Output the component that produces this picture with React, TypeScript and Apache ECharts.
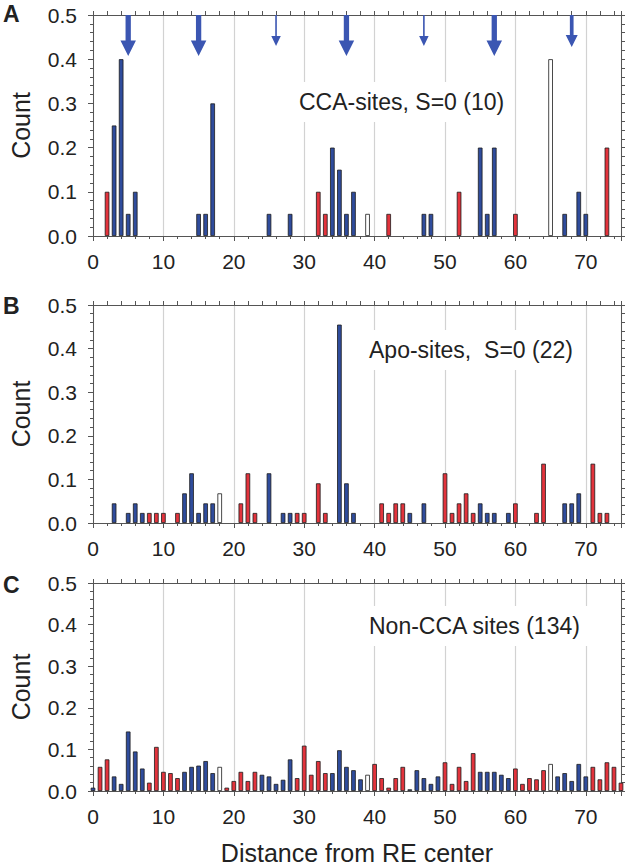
import React, { useEffect, useRef } from "react";
import * as echarts from "echarts";

// ---------- data ----------
// Panel A: CCA-sites, S=0 (10)
const A_X = [2, 3, 4, 5, 6, 15, 16, 17, 25, 28, 32, 33, 34, 35, 36, 37, 39, 42, 47, 48, 52, 55, 56, 57, 60, 65, 67, 69, 70, 73];
const A_Y = [0.1, 0.25, 0.4, 0.05, 0.1, 0.05, 0.05, 0.3, 0.05, 0.05, 0.1, 0.05, 0.2, 0.15, 0.05, 0.1, 0.05, 0.05, 0.05, 0.05, 0.1, 0.2, 0.05, 0.2, 0.05, 0.4, 0.05, 0.1, 0.05, 0.2];
const A_T = ["r", "b", "b", "b", "b", "b", "b", "b", "b", "b", "r", "r", "b", "b", "b", "b", "w", "r", "b", "b", "r", "b", "b", "b", "r", "w", "b", "b", "b", "r"];

// Panel B: Apo-sites, S=0 (22)
const B_X = [3, 5, 6, 7, 8, 9, 10, 12, 13, 14, 15, 16, 17, 18, 21, 22, 23, 25, 27, 28, 29, 30, 32, 33, 35, 36, 37, 41, 42, 43, 44, 45, 47, 50, 51, 52, 53, 54, 55, 56, 57, 59, 60, 63, 64, 67, 68, 69, 71, 72, 73];
const B_Y = [0.045, 0.023, 0.045, 0.023, 0.023, 0.023, 0.023, 0.023, 0.068, 0.114, 0.023, 0.045, 0.045, 0.068, 0.045, 0.114, 0.023, 0.114, 0.023, 0.023, 0.023, 0.023, 0.091, 0.023, 0.455, 0.091, 0.023, 0.045, 0.023, 0.045, 0.045, 0.023, 0.045, 0.114, 0.023, 0.045, 0.068, 0.023, 0.045, 0.023, 0.023, 0.023, 0.045, 0.023, 0.136, 0.045, 0.045, 0.068, 0.136, 0.023, 0.023];
const B_T = ["b", "b", "b", "b", "r", "r", "r", "r", "b", "b", "b", "b", "b", "w", "r", "r", "r", "b", "b", "b", "r", "r", "r", "r", "b", "b", "b", "r", "r", "r", "r", "b", "b", "r", "r", "r", "r", "r", "b", "b", "b", "b", "r", "r", "r", "b", "b", "b", "r", "r", "r"];

// Panel C: Non-CCA sites (134)
const C_X = [0, 1, 2, 3, 4, 5, 6, 7, 8, 9, 10, 11, 12, 13, 14, 15, 16, 17, 18, 19, 20, 21, 22, 23, 24, 25, 26, 27, 28, 29, 30, 31, 32, 33, 34, 35, 36, 37, 38, 39, 40, 41, 42, 43, 44, 45, 46, 47, 48, 49, 50, 51, 52, 53, 54, 55, 56, 57, 58, 59, 60, 61, 62, 63, 64, 65, 66, 67, 68, 69, 70, 71, 72, 73, 74, 75];
const C_Y = [0.008, 0.058, 0.076, 0.035, 0.017, 0.143, 0.095, 0.054, 0.02, 0.106, 0.046, 0.043, 0.031, 0.046, 0.058, 0.061, 0.072, 0.043, 0.058, 0.008, 0.024, 0.046, 0.024, 0.046, 0.039, 0.035, 0.017, 0.027, 0.076, 0.031, 0.109, 0.039, 0.072, 0.043, 0.043, 0.098, 0.058, 0.05, 0.028, 0.039, 0.065, 0.031, 0.008, 0.031, 0.058, 0.004, 0.05, 0.031, 0.017, 0.035, 0.069, 0.017, 0.058, 0.024, 0.091, 0.046, 0.046, 0.046, 0.039, 0.031, 0.054, 0.017, 0.031, 0.028, 0.05, 0.065, 0.035, 0.043, 0.024, 0.065, 0.035, 0.058, 0.028, 0.069, 0.058, 0.02];
const C_T = ["b", "r", "r", "b", "b", "b", "b", "b", "r", "r", "r", "r", "r", "b", "b", "b", "b", "b", "w", "r", "r", "r", "r", "r", "b", "b", "b", "b", "b", "r", "r", "r", "r", "r", "b", "b", "b", "b", "b", "w", "r", "r", "r", "r", "r", "b", "b", "b", "b", "b", "r", "r", "r", "r", "r", "b", "b", "b", "b", "b", "r", "r", "r", "r", "r", "w", "b", "b", "b", "b", "b", "r", "r", "r", "r", "r"];

// Arrows in panel A (position, weight 1 = thin, 2 = medium, 3 = thick)
const ARROW_X = [5, 15, 26, 36, 47, 57, 68];
const ARROW_W = [3, 3, 1, 3, 1, 3, 2];

const PANEL_TITLES = ["CCA-sites, S=0 (10)", "Apo-sites,  S=0 (22)", "Non-CCA sites (134)"];
const PANEL_LETTERS = ["A", "B", "C"];
const Y_NAME = "Count";
const X_NAME = "Distance from RE center";

// ---------- styles ----------
const FONT = '"Liberation Sans", Arial, Helvetica, sans-serif';
const TEXT = "#222222";
const AXIS = "#555555";
const COLORS: Record<string, string> = { b: "#2F4C9C", r: "#E2333C", w: "#FFFFFF" };
const ARROW_COLOR = "#3B56B2";
const ARROW_SPEC: Record<number, { s: number; h: number; hh: number; len: number }> = {
  1: { s: 1.6, h: 9.5, hh: 10, len: 31 },
  2: { s: 3.7, h: 12, hh: 12, len: 32 },
  3: { s: 5.3, h: 15.5, hh: 15.5, len: 41 },
};
const GRIDS = [
  { top: 15, height: 221 },
  { top: 305, height: 218 },
  { top: 583, height: 213 },
];
const TITLE_POS = [
  { left: 289, top: 82 },
  { left: 359, top: 330 },
  { left: 359, top: 606 },
];
const LETTER_Y = [14, 306, 585];

export default function App() {
  const ref = useRef<HTMLDivElement>(null);
  useEffect(() => {
    if (!ref.current) return;
    const chart = echarts.init(ref.current, null, { renderer: "svg" });
    const panels = [
      { x: A_X, y: A_Y, t: A_T },
      { x: B_X, y: B_Y, t: B_T },
      { x: C_X, y: C_Y, t: C_T },
    ];
    const grid: any[] = [];
    const xAxis: any[] = [];
    const yAxis: any[] = [];
    const series: any[] = [];
    const title: any[] = [];
    panels.forEach((p, i) => {
      grid.push({ left: 80, width: 541, top: GRIDS[i].top, height: GRIDS[i].height, containLabel: false });
      xAxis.push({
        type: "value",
        gridIndex: i,
        position: "bottom",
        min: 0,
        max: 75,
        interval: 10,
        name: i === 2 ? X_NAME : "",
        nameLocation: "middle",
        nameGap: 49,
        nameTextStyle: { fontSize: 25, color: TEXT, fontFamily: FONT },
        axisLine: { show: true, onZero: false, lineStyle: { color: AXIS, width: 1 } },
        axisTick: { show: true, length: 5, lineStyle: { color: AXIS } },
        minorTick: { show: true, splitNumber: 5, length: 3, lineStyle: { color: AXIS } },
        axisLabel: { fontSize: 21, color: TEXT, fontFamily: FONT, margin: 15, showMaxLabel: false },
        splitLine: { show: true, lineStyle: { color: "#d2d2d2", width: 1.2 } },
      });
      xAxis.push({
        type: "value",
        gridIndex: i,
        position: "top",
        min: 0,
        max: 75,
        interval: 2,
        axisLine: { show: true, onZero: false, lineStyle: { color: AXIS, width: 1 } },
        axisTick: { show: true, length: 4, lineStyle: { color: AXIS } },
        axisLabel: { show: false },
        splitLine: { show: false },
      });
      yAxis.push({
        type: "value",
        gridIndex: i,
        position: "left",
        min: 0,
        max: 0.5,
        interval: 0.1,
        name: Y_NAME,
        nameLocation: "middle",
        nameRotate: 90,
        nameGap: 60,
        nameTextStyle: { fontSize: 25, color: TEXT, fontFamily: FONT },
        axisLine: { show: true, onZero: false, lineStyle: { color: AXIS, width: 1 } },
        axisTick: { show: true, length: 5, lineStyle: { color: AXIS } },
        minorTick: { show: true, splitNumber: 5, length: 3, lineStyle: { color: AXIS } },
        axisLabel: {
          fontSize: 21,
          color: TEXT,
          fontFamily: FONT,
          margin: 16,
          formatter: (v: number) => v.toFixed(1),
        },
        splitLine: { show: false },
      });
      yAxis.push({
        type: "value",
        gridIndex: i,
        position: "right",
        min: 0,
        max: 0.5,
        interval: 0.02,
        axisLine: { show: true, onZero: false, lineStyle: { color: AXIS, width: 1 } },
        axisTick: { show: true, length: 4, lineStyle: { color: AXIS } },
        axisLabel: { show: false },
        splitLine: { show: false },
      });
      series.push({
        type: "bar",
        xAxisIndex: 2 * i,
        yAxisIndex: 2 * i,
        barWidth: 4.6,
        clip: true,
        itemStyle: { borderColor: "#1c1c1c", borderWidth: 0.8 },
        data: p.x.map((x, k) => ({ value: [x, p.y[k]], itemStyle: { color: COLORS[p.t[k]] } })),
        z: 3,
      });
      title.push({
        text: PANEL_TITLES[i],
        left: TITLE_POS[i].left,
        top: TITLE_POS[i].top,
        backgroundColor: "#ffffff",
        padding: [7, 10],
        textStyle: { fontSize: 23, fontWeight: "normal", color: TEXT, fontFamily: FONT, lineHeight: 26 },
      });
    });

    series.push({
      type: "custom",
      xAxisIndex: 0,
      yAxisIndex: 0,
      clip: false,
      z: 5,
      encode: { x: 0, y: 1 },
      data: ARROW_X.map((x, k) => [x, 0.5, ARROW_W[k]]),
      renderItem: (_params: any, api: any) => {
        const x = api.value(0);
        const w = api.value(2);
        const spec = ARROW_SPEC[w];
        const top = api.coord([x, 0.5]);
        const cx = top[0];
        const y0 = top[1];
        const yTip = y0 + spec.len;
        const yHead = yTip - spec.hh;
        return {
          type: "polygon",
          shape: {
            points: [
              [cx - spec.s / 2, y0],
              [cx + spec.s / 2, y0],
              [cx + spec.s / 2, yHead],
              [cx + spec.h / 2, yHead],
              [cx, yTip],
              [cx - spec.h / 2, yHead],
              [cx - spec.s / 2, yHead],
            ],
          },
          style: { fill: ARROW_COLOR },
        };
      },
    });

    const graphic = PANEL_LETTERS.map((L, i) => ({
      type: "text",
      x: 3,
      y: LETTER_Y[i],
      style: {
        text: L,
        fill: TEXT,
        font: `bold 23px ${FONT}`,
        verticalAlign: "middle",
        align: "left",
      },
    }));

    chart.setOption({
      animation: false,
      backgroundColor: "#ffffff",
      grid,
      xAxis,
      yAxis,
      series,
      title,
      graphic,
    });
    return () => chart.dispose();
  }, []);
  return (
    <div
      ref={ref}
      style={{ position: "fixed", left: 0, top: 0, width: 626, height: 866, background: "#fff" }}
    />
  );
}
